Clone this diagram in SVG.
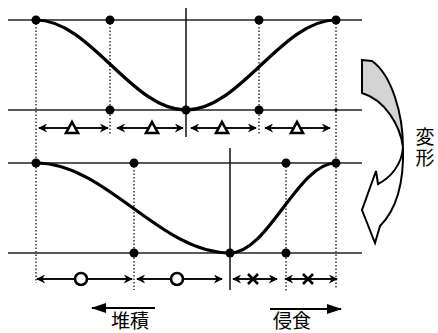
<svg xmlns="http://www.w3.org/2000/svg" width="438" height="333" viewBox="0 0 438 333">
<style>
.h{stroke:#222;stroke-width:1.6;fill:none}
.d{stroke:#333;stroke-width:1.5;stroke-dasharray:1.5 2;fill:none}
.v{stroke:#111;stroke-width:1.5;fill:none}
.c{stroke:#000;stroke-width:3.2;fill:none}
.p{fill:#000}
.a{stroke:#111;stroke-width:1.8;fill:none;marker-start:url(#ah);marker-end:url(#ah)}
.sym{stroke:#000;stroke-width:2.6;fill:#fff}
.t{font-family:"Noto Sans CJK JP","Noto Sans CJK SC",sans-serif;font-size:19px;fill:#000}
</style>
<defs>
<marker id="ah" viewBox="0 0 10 10" refX="9" refY="5" markerWidth="11" markerHeight="9" markerUnits="userSpaceOnUse" orient="auto-start-reverse">
<path d="M0,0 L10,5 L0,10 L3,5 Z" fill="#000"/>
</marker>
<marker id="bh" viewBox="0 0 15 10" refX="14" refY="5" markerWidth="15" markerHeight="10" markerUnits="userSpaceOnUse" orient="auto">
<path d="M0,0 L15,5 L0,10 Z" fill="#000"/>
</marker>
</defs>
<g id="grid-top">
<line class="h" x1="8" y1="20" x2="362" y2="20"/>
<line class="h" x1="8" y1="110" x2="362" y2="110"/>
<line class="d" x1="36" y1="20" x2="36" y2="283"/>
<line class="d" x1="110" y1="20" x2="110" y2="135"/>
<line class="v" x1="186" y1="8" x2="186" y2="137"/>
<line class="d" x1="259" y1="20" x2="259" y2="135"/>
<line class="d" x1="336" y1="20" x2="336" y2="288"/>
</g>
<g id="grid-bottom">
<line class="h" x1="8" y1="163" x2="362" y2="163"/>
<line class="h" x1="8" y1="253" x2="362" y2="253"/>
<line class="d" x1="134" y1="163" x2="134" y2="290"/>
<line class="v" x1="230" y1="148" x2="230" y2="290"/>
<line class="d" x1="286" y1="163" x2="286" y2="291"/>
</g>
<g id="curve-top">
<path class="c" d="M36,20 C90.6,20 131.4,110 186,110 C240.6,110 281.4,20 336,20"/>
</g>
<g id="curve-bottom">
<path class="c" d="M36,163 C106.6,163 159.4,253 230,253 C268.6,253 297.4,163 336,163"/>
</g>
<g id="points">
<circle class="p" cx="36" cy="20" r="4.5"/>
<circle class="p" cx="110" cy="20" r="4.5"/>
<circle class="p" cx="259" cy="20" r="4.5"/>
<circle class="p" cx="336" cy="20" r="4.5"/>
<circle class="p" cx="110" cy="110" r="4.5"/>
<circle class="p" cx="186" cy="110" r="4.5"/>
<circle class="p" cx="259" cy="110" r="4.5"/>
<circle class="p" cx="336" cy="110" r="1.5"/>
<circle class="p" cx="36" cy="163" r="4.5"/>
<circle class="p" cx="134" cy="163" r="4.5"/>
<circle class="p" cx="286" cy="163" r="4.5"/>
<circle class="p" cx="336" cy="163" r="4.5"/>
<circle class="p" cx="134" cy="253" r="4.5"/>
<circle class="p" cx="230" cy="253" r="4.5"/>
<circle class="p" cx="286" cy="253" r="4.5"/>
</g>
<g id="connectors">
<line class="a" x1="39" y1="128" x2="108" y2="128"/>
<line class="a" x1="117" y1="128" x2="183" y2="128"/>
<line class="a" x1="191" y1="128" x2="256" y2="128"/>
<line class="a" x1="265" y1="128" x2="330" y2="128"/>
<line class="a" x1="37" y1="279" x2="132" y2="279"/>
<line class="a" x1="137" y1="279" x2="222" y2="279"/>
<line class="a" x1="233" y1="279" x2="277" y2="279"/>
<line class="a" x1="285" y1="279" x2="337" y2="279"/>
<line stroke="#000" stroke-width="2" x1="155" y1="308" x2="92" y2="308" marker-end="url(#bh)"/>
<line stroke="#000" stroke-width="2" x1="270" y1="309" x2="341" y2="309" marker-end="url(#bh)"/>
</g>
<g id="marks">
<path class="sym" d="M72,122 L78,133 L66,133 Z"/>
<path class="sym" d="M152,122 L158,133 L146,133 Z"/>
<path class="sym" d="M222,122 L228,133 L216,133 Z"/>
<path class="sym" d="M297,122 L303,133 L291,133 Z"/>
<circle class="sym" cx="81" cy="279" r="6"/>
<circle class="sym" cx="177" cy="279" r="6"/>
<path class="sym" d="M248,274 L258,284 M258,274 L248,284"/>
<path class="sym" d="M303,274 L313,284 M313,274 L303,284"/>
</g>
<g id="deform-arrow">
<path d="M362,60 L372,61 C392,75 403,115 403,147 C400,125 385,100 362,93 Z" fill="#d4d4d4" stroke="#000" stroke-width="2"/>
<path d="M403,147 C404,180 398,208 380,226 L375,243 L362,210 L376,171 L378,184 C390,178 402,165 403,147 Z" fill="#fff" stroke="#000" stroke-width="2"/>
</g>
<g id="labels">
<text class="t" x="425" y="127" writing-mode="vertical-rl" letter-spacing="2">変形</text>
<text class="t" x="111" y="328">堆積</text>
<text class="t" x="273" y="328">侵食</text>
</g>
</svg>
